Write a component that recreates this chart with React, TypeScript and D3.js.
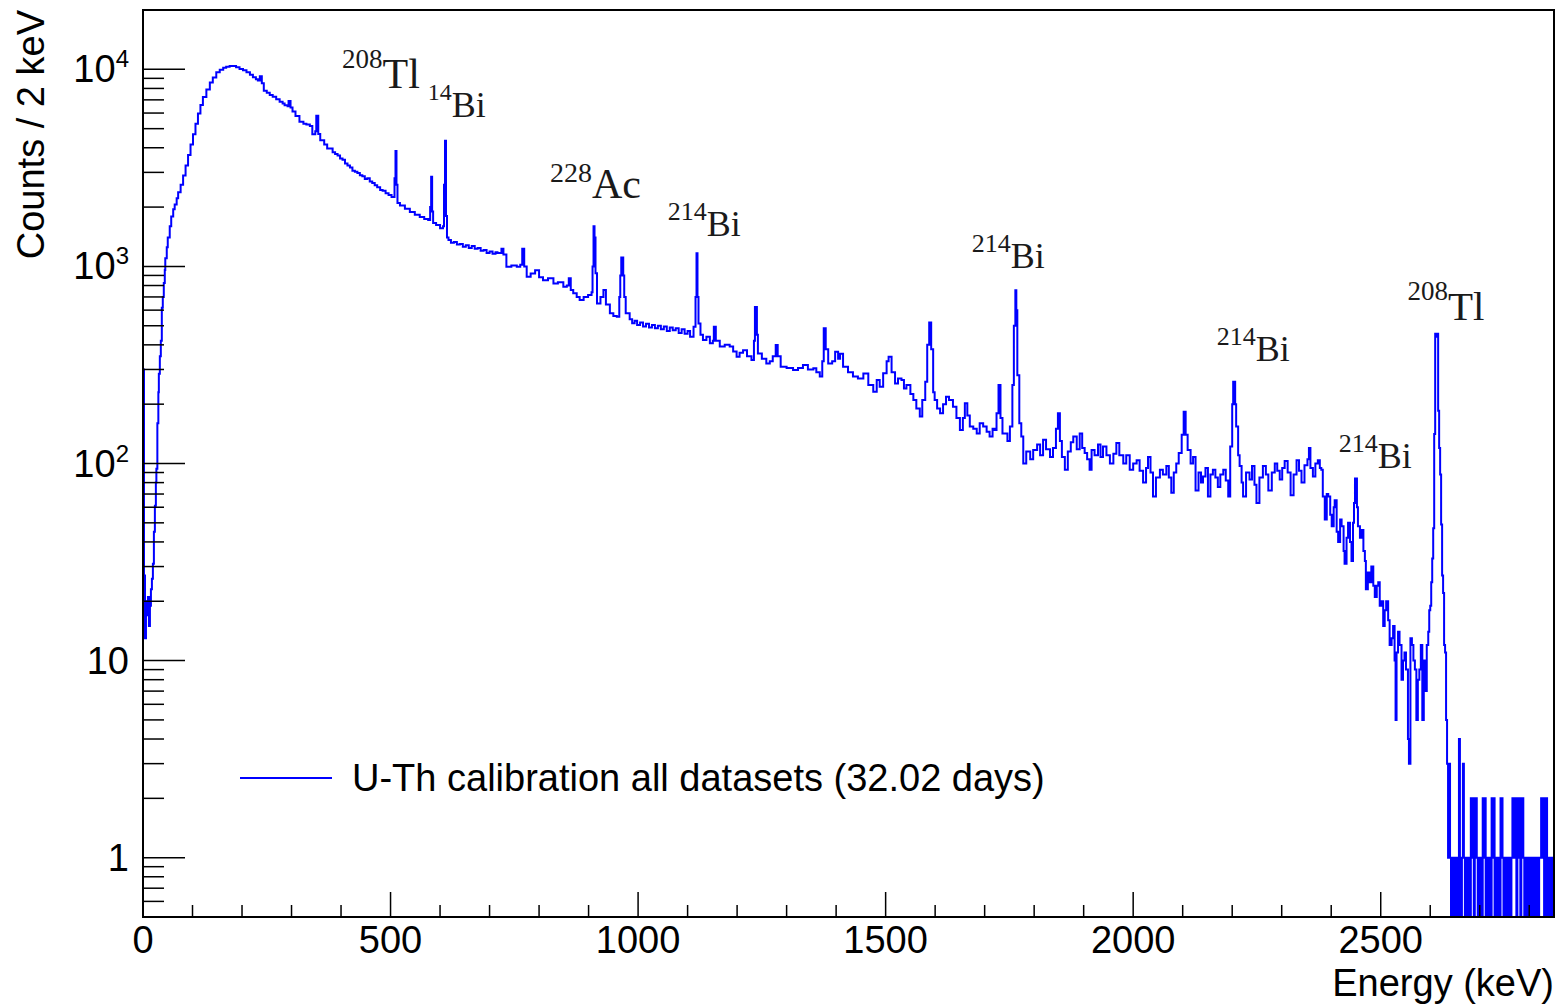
import React from "react";
import * as d3 from "d3";

// [bin start energy (keV), counts per 2 keV]
const spectrum: [number, number][] = [
  [0, 300], [2, 27], [4, 13], [6, 20], [8, 17], [10, 21], [12, 15], [14, 19], [16, 23], [18, 26],
  [20, 31], [22, 45], [24, 61], [26, 80], [27, 94], [29, 160], [31, 230], [32, 285], [34, 350],
  [36, 420], [38, 617], [40, 700], [42, 824], [44, 960], [45, 1100], [48, 1250], [50, 1400],
  [54, 1600], [57, 1790], [61, 1950], [64, 2060], [68, 2220], [71, 2380], [76, 2600], [81, 2890],
  [86, 3250], [91, 3680], [96, 4150], [101, 4690], [106, 5300], [111, 5970], [116, 6600],
  [121, 7240], [128, 7900], [135, 8580], [141, 9100], [148, 9670], [155, 9950], [162, 10200],
  [168, 10300], [175, 10400], [182, 10400], [188, 10250], [195, 10050], [202, 9900], [209, 9670],
  [216, 9400], [222, 9120], [228, 8900], [232, 8780], [236, 9210], [240, 8500], [244, 7790],
  [250, 7600], [256, 7410], [262, 7250], [269, 7060], [276, 6850], [282, 6700], [286, 6580],
  [292, 6500], [294, 6900], [298, 6400], [302, 6110], [308, 5800], [316, 5420], [324, 5300],
  [330, 5250], [337, 5160], [342, 4690], [348, 4850], [350, 5820], [354, 4700], [358, 4370],
  [366, 4150], [372, 3960], [383, 3800], [388, 3720], [393, 3650], [398, 3530], [403, 3480],
  [408, 3330], [413, 3250], [418, 3180], [423, 3060], [428, 3020], [433, 2980], [438, 2900],
  [443, 2870], [448, 2780], [453, 2800], [458, 2700], [463, 2650], [468, 2580], [473, 2520],
  [479, 2440], [484, 2420], [490, 2350], [496, 2300], [502, 2250],
  [508, 2800], [510, 3850], [512, 2600], [514, 2100], [519, 2040], [529, 1960], [539, 1890],
  [549, 1830], [559, 1780], [568, 1740], [576, 1720], [580, 2000], [582, 2850], [584, 1900],
  [586, 1660], [592, 1620], [600, 1560], [606, 1600], [608, 2600], [610, 4340], [612, 1800],
  [614, 1400], [617, 1360], [622, 1320], [628, 1330], [634, 1290], [640, 1300], [646, 1260],
  [652, 1280], [658, 1240], [664, 1270], [670, 1230], [676, 1240], [682, 1200], [688, 1210],
  [694, 1170], [700, 1190], [706, 1160], [712, 1180], [716, 1170], [724, 1230], [728, 1150],
  [734, 995], [744, 1010],
  [755, 995], [762, 1020], [766, 1230], [770, 1000], [775, 885], [783, 920], [792, 955],
  [800, 880], [808, 850], [818, 870], [829, 820], [838, 830], [849, 788], [856, 800], [860, 870],
  [864, 760], [869, 730], [876, 700], [882, 676], [890, 700], [899, 716], [906, 740], [908, 1000],
  [910, 1600], [912, 1400], [914, 922], [917, 649], [924, 700], [930, 760], [935, 640], [943, 578],
  [950, 560], [957, 556], [962, 700], [964, 900], [966, 1110], [970, 900], [972, 700], [975, 578],
  [983, 540], [988, 515], [993, 530], [998, 505], [1004, 520], [1010, 495], [1016, 512],
  [1022, 490], [1028, 505], [1034, 485], [1040, 500], [1046, 480], [1052, 495], [1058, 470],
  [1064, 490], [1070, 475], [1076, 485], [1082, 460], [1088, 480], [1094, 455], [1100, 470],
  [1105, 440], [1112, 494], [1116, 700],
  [1118, 1165], [1120, 700], [1122, 514], [1126, 450], [1131, 423], [1138, 440], [1145, 407],
  [1151, 420], [1153, 494], [1157, 420], [1165, 392], [1175, 400], [1185, 392], [1192, 370],
  [1199, 348], [1205, 365], [1212, 376], [1220, 350], [1229, 335], [1234, 420], [1236, 623],
  [1240, 450], [1242, 362], [1250, 340], [1259, 322], [1266, 330], [1272, 350], [1278, 399],
  [1282, 350], [1288, 310], [1300, 305], [1313, 298], [1323, 305], [1333, 316], [1343, 300],
  [1354, 304], [1360, 290], [1367, 276], [1372, 330], [1375, 485], [1379, 380], [1384, 322],
  [1392, 330], [1398, 369], [1404, 340], [1408, 360], [1414, 310], [1424, 290], [1434, 276],
  [1444, 270], [1455, 286], [1465, 250], [1475, 231], [1482, 265], [1488, 245], [1495, 287],
  [1502, 330], [1506, 348], [1512, 290], [1519, 255], [1525, 270], [1532, 265], [1537, 240],
  [1542, 250], [1550, 225], [1556, 210], [1562, 190], [1569, 173], [1574, 210], [1580, 260],
  [1584, 400], [1588, 520], [1592, 380], [1596, 230], [1599, 210], [1604, 190], [1610, 180],
  [1616, 200], [1622, 218], [1628, 210], [1636, 194], [1643, 170], [1650, 148], [1656, 170],
  [1660, 202], [1665, 175], [1670, 154], [1677, 150], [1684, 142], [1690, 160], [1697, 154],
  [1704, 145], [1710, 137], [1716, 150], [1720, 148], [1724, 180], [1728, 250], [1732, 170],
  [1736, 142], [1741, 142], [1746, 130], [1751, 154], [1756, 250], [1759, 500], [1762, 758],
  [1764, 600], [1766, 280], [1770, 160], [1774, 137], [1778, 100], [1784, 115], [1792, 105],
  [1798, 117], [1806, 125], [1812, 110], [1818, 132], [1824, 118], [1832, 108], [1838, 120],
  [1844, 150], [1848, 180], [1852, 130], [1856, 108], [1862, 93], [1868, 115], [1874, 128],
  [1879, 137], [1886, 118], [1892, 142], [1897, 120], [1902, 113], [1907, 105], [1912, 93],
  [1916, 117], [1922, 110], [1929, 125], [1934, 108], [1939, 122], [1946, 110], [1953, 100],
  [1960, 112], [1966, 127], [1972, 110], [1980, 100], [1986, 110], [1993, 93], [2000, 100],
  [2007, 104], [2013, 92], [2020, 80], [2026, 95], [2030, 108], [2035, 90], [2040, 68],
  [2046, 85], [2054, 93], [2060, 88], [2067, 97], [2072, 85], [2077, 71], [2082, 90],
  [2087, 100], [2092, 113], [2098, 140], [2102, 183], [2106, 140], [2110, 117], [2116, 100],
  [2121, 108], [2126, 73], [2132, 90], [2137, 80], [2141, 86], [2146, 95], [2151, 68],
  [2156, 88], [2161, 93], [2166, 85], [2171, 76], [2176, 88], [2182, 93], [2187, 82], [2192, 68],
  [2196, 122], [2200, 200], [2202, 260], [2206, 200], [2208, 154], [2212, 110], [2215, 97],
  [2219, 80], [2222, 68], [2228, 90], [2235, 83], [2240, 97], [2245, 78], [2249, 63], [2255, 85],
  [2262, 97], [2268, 88], [2273, 73], [2280, 90], [2286, 100], [2291, 92], [2296, 83],
  [2301, 95], [2306, 103], [2312, 90], [2318, 69], [2324, 88], [2330, 104], [2335, 92],
  [2340, 80], [2346, 98], [2352, 105], [2355, 120], [2358, 95], [2363, 86], [2368, 100],
  [2373, 104], [2377, 95], [2380, 93], [2383, 68], [2387, 52], [2391, 70], [2394, 68],
  [2398, 55], [2401, 48], [2405, 60], [2407, 65], [2411, 45], [2414, 40], [2418, 52], [2421, 48],
  [2425, 36], [2427, 31], [2431, 42], [2434, 50], [2438, 40], [2441, 32], [2444, 50], [2446, 63],
  [2448, 84], [2452, 60], [2454, 48], [2458, 42], [2461, 46], [2465, 36], [2468, 32], [2470, 23],
  [2474, 28], [2478, 25], [2481, 30], [2485, 24], [2488, 21], [2492, 24], [2495, 25], [2498, 19],
  [2501, 20], [2505, 15], [2508, 18], [2511, 20], [2515, 16], [2518, 12], [2522, 13], [2525, 15],
  [2528, 10], [2530, 5], [2532, 11], [2535, 14], [2538, 12], [2542, 8], [2545, 10], [2548, 11],
  [2551, 9], [2555, 4], [2557, 3], [2560, 13], [2563, 12], [2566, 10], [2569, 9], [2572, 5],
  [2575, 8], [2578, 9], [2581, 12], [2584, 5], [2587, 10], [2590, 7], [2593, 12], [2596, 14],
  [2598, 18], [2600, 19], [2602, 25], [2604, 33], [2606, 47], [2608, 141], [2610, 456],
  [2612, 440], [2614, 456], [2616, 185], [2618, 120], [2620, 88], [2622, 49], [2624, 27],
  [2626, 22], [2628, 12], [2630, 11], [2632, 5], [2634, 3], [2636, 1],
];

// 2 keV bins from 2638 keV to the end of the axis
const tailStart = 2638;
const tailCounts = [
  3, 1, 0, 1, 0, 1, 0, 1, 1, 0, 4, 1, 0, 1, 3, 1, 0, 1, 0, 1, 1, 0, 2, 1, 2, 0, 1, 2, 1, 0,
  1, 0, 1, 0, 2, 1, 2, 0, 1, 0, 1, 1, 0, 2, 1, 2, 0, 1, 0, 1, 1, 0, 2, 2, 1, 0, 1, 0, 1, 1,
  0, 1, 0, 1, 2, 1, 2, 2, 0, 2, 1, 2, 0, 1, 2, 1, 0, 1, 0, 1, 1, 0, 1, 0, 1, 1, 0, 1, 0, 1,
  0, 1, 1, 2, 1, 2, 0, 1, 2, 0, 1, 0, 1, 1, 0, 0,
];

const xDomain: [number, number] = [0, 2850];
const yDomain: [number, number] = [0.5, 20000];
const xMajorTicks = [0, 500, 1000, 1500, 2000, 2500];
const yMajorTicks = [1, 10, 100, 1000, 10000];
const yTickText: [string, string][] = [["1", ""], ["10", ""], ["10", "2"], ["10", "3"], ["10", "4"]];
const xTitle = "Energy (keV)";
const yTitle = "Counts / 2 keV";
const legendText = "U-Th calibration all datasets (32.02 days)";

// peak labels: mass number, element, anchor energy (keV), anchor count level
const peakMass = ["208", "14", "228", "214", "214", "214", "214", "208"];
const peakElem = ["Tl", "Bi", "Ac", "Bi", "Bi", "Bi", "Bi", "Tl"];
const peakE = [402, 575, 822, 1060, 1674, 2169, 2415, 2554];
const peakC = [8010, 5710, 2220, 1427, 980, 331, 95, 535];

const W = 1558;
const H = 1004;
const M = { left: 143, right: 1554, top: 10, bottom: 917 };
const BLUE = "#0000ff";
const SANS = "'Liberation Sans', Arial, Helvetica, sans-serif";
const SERIF = "'Liberation Serif', 'Times New Roman', serif";
const supSize = [27, 24, 28, 26, 26, 26, 26, 27];
const mainSize = [42, 36, 42, 36, 36, 36, 36, 41];
const supRise = [20, 17, 16, 16, 16, 16, 16, 20];

export default function App() {
  const x = d3.scaleLinear().domain(xDomain).range([M.left, M.right]);
  const y = d3.scaleLog().domain(yDomain).range([M.bottom, M.top]);

  const bins: [number, number][] = [
    ...spectrum,
    ...tailCounts.map((c, i) => [tailStart + 2 * i, c] as [number, number]),
  ];
  const pts: [number, number][] = [...bins, [xDomain[1], bins[bins.length - 1][1]]];
  const line = d3
    .line<[number, number]>()
    .x((d) => x(d[0]))
    .y((d) => y(Math.max(d[1], yDomain[0])))
    .curve(d3.curveStepAfter);
  const path = line(pts) || "";

  const xMinor = d3.range(0, xDomain[1] + 1, 100).filter((v) => v % 500 !== 0);
  const yMinor: number[] = [];
  [0.1, 1, 10, 100, 1000, 10000].forEach((d) => {
    for (let k = 2; k <= 9; k++) {
      const v = k * d;
      if (v >= yDomain[0] && v <= yDomain[1]) yMinor.push(v);
    }
  });

  const fontSize = 38;

  return (
    <svg
      width={W}
      height={H}
      style={{ position: "absolute", left: 0, top: 0, background: "#fff" }}
    >
      <defs>
        <clipPath id="frame">
          <rect x={M.left} y={M.top} width={M.right - M.left} height={M.bottom - M.top} />
        </clipPath>
      </defs>
      <rect x={0} y={0} width={W} height={H} fill="#fff" />

      <path
        d={path}
        fill="none"
        stroke={BLUE}
        strokeWidth={2}
        clipPath="url(#frame)"
        strokeLinejoin="miter"
      />

      {/* frame */}
      <rect
        x={M.left}
        y={M.top}
        width={M.right - M.left}
        height={M.bottom - M.top}
        fill="none"
        stroke="#000"
        strokeWidth={2}
      />

      {/* x ticks */}
      {xMajorTicks.map((v) => (
        <line key={"xM" + v} x1={x(v)} x2={x(v)} y1={M.bottom} y2={M.bottom - 25} stroke="#000" strokeWidth={1.5} />
      ))}
      {xMinor.map((v) => (
        <line key={"xm" + v} x1={x(v)} x2={x(v)} y1={M.bottom} y2={M.bottom - 12} stroke="#000" strokeWidth={1.5} />
      ))}
      {xMajorTicks.map((v) => (
        <text
          key={"xl" + v}
          x={x(v)}
          y={953}
          fontFamily={SANS}
          fontSize={fontSize}
          textAnchor="middle"
        >
          {v}
        </text>
      ))}
      <text x={M.right} y={996} fontFamily={SANS} fontSize={fontSize} textAnchor="end">
        {xTitle}
      </text>

      {/* y ticks */}
      {yMajorTicks.map((v) => (
        <line key={"yM" + v} x1={M.left} x2={M.left + 42} y1={y(v)} y2={y(v)} stroke="#000" strokeWidth={1.5} />
      ))}
      {yMinor.map((v) => (
        <line key={"ym" + v} x1={M.left} x2={M.left + 21} y1={y(v)} y2={y(v)} stroke="#000" strokeWidth={1.5} />
      ))}
      {yMajorTicks.map((v, i) => (
        <text
          key={"yl" + v}
          x={129}
          y={y(v) + 13}
          fontFamily={SANS}
          fontSize={fontSize}
          textAnchor="end"
        >
          {yTickText[i][0]}
          {yTickText[i][1] ? (
            <tspan fontSize={24} dy={-15}>
              {yTickText[i][1]}
            </tspan>
          ) : null}
        </text>
      ))}
      <text
        transform={`translate(44, ${M.top}) rotate(-90)`}
        fontFamily={SANS}
        fontSize={fontSize}
        textAnchor="end"
      >
        {yTitle}
      </text>

      {/* peak labels */}
      {peakMass.map((m, i) => {
        const px = x(peakE[i]);
        const py = y(peakC[i]);
        return (
          <text key={"pk" + i} x={px} fontFamily={SERIF} fill="#1a1a1a">
            <tspan y={py - supRise[i]} fontSize={supSize[i]}>
              {m}
            </tspan>
            <tspan y={py} fontSize={mainSize[i]}>
              {peakElem[i]}
            </tspan>
          </text>
        );
      })}

      {/* legend */}
      <line x1={240} x2={332} y1={778} y2={778} stroke={BLUE} strokeWidth={2} />
      <text x={352} y={791} fontFamily={SANS} fontSize={fontSize}>
        {legendText}
      </text>
    </svg>
  );
}
